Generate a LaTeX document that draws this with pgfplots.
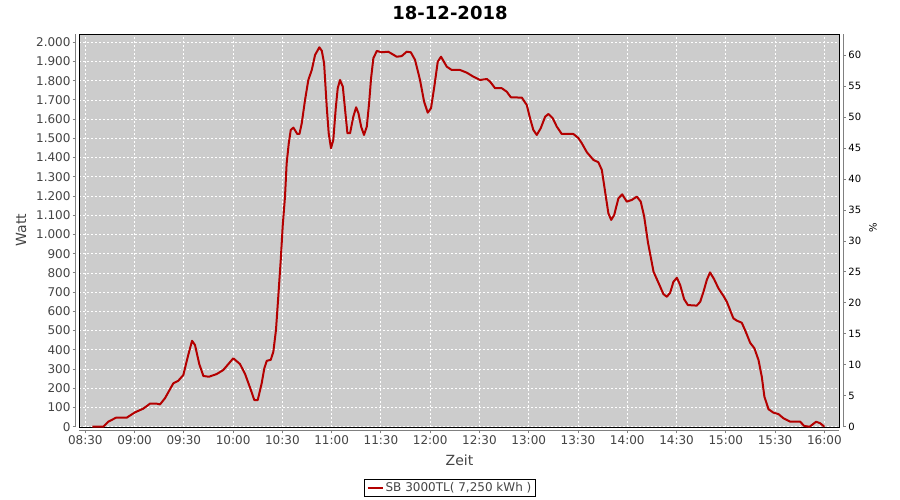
\documentclass[border=0pt]{standalone}
\usepackage{fontspec}
\setmainfont{DejaVu Sans}
\usepackage{pgfplots}
\pgfplotsset{compat=1.18}
\definecolor{bgGray}{RGB}{204,204,204}
\definecolor{axGray}{RGB}{128,128,128}
\definecolor{lblGray}{RGB}{68,68,68}
\definecolor{lineRed}{RGB}{180,0,0}
\pgfplotstableread{
t W
4.3 0
11 0
14 26
18.7 47
25.2 47
30.3 75
35.3 94
39.4 120
43.5 120
45.5 116
48.5 148
53.6 226
56.6 239
59.7 269
62.4 364
65 447
66.8 425
69.4 326
71.9 264
75.3 260
80 274
84 295
90.1 356
94.2 326
97.3 274
100.7 194
102.9 139
105 139
107.4 226
109 304
110.5 343
112.9 348
114.5 390
116.1 503
117.5 676
119 867
120.2 1045
121.6 1197
122.6 1370
123.9 1475
125.1 1544
126.7 1556
129.1 1523
130.4 1523
131.8 1579
133.8 1700
135.8 1804
137.9 1856
139.9 1934
142.5 1974
144 1956
145.4 1891
147 1665
148.2 1527
149.6 1449
151 1492
152.5 1657
153.7 1761
155.1 1804
156.8 1769
158.2 1648
159.6 1527
161.2 1527
163.2 1613
164.9 1662
166.3 1631
168 1560
169.7 1518
171.4 1561
172.8 1683
174 1813
175.4 1917
177.5 1955
180.5 1948
184.5 1951
189.6 1925
192.6 1928
195.7 1951
198.2 1948
200.8 1908
203.8 1804
206.3 1691
208.5 1634
210.5 1657
212.5 1769
214.6 1899
216.6 1925
220.1 1873
223.1 1856
228.2 1856
232.3 1842
236.3 1821
240.4 1804
244.5 1809
246.5 1795
249.5 1761
253.6 1761
256.6 1743
259.1 1714
265.8 1712
268.8 1674
270.8 1605
272.8 1544
274.9 1518
277.3 1553
280 1613
282 1627
284.6 1605
287.1 1561
290.1 1523
297.2 1523
300.3 1501
302.3 1475
305.4 1428
309.4 1388
312.4 1376
314.5 1336
316.5 1223
318.5 1110
320.2 1076
322 1101
324.6 1188
326.9 1209
329.7 1171
332.8 1180
335.8 1197
338.2 1171
340.3 1093
342.6 958
346 806
349.6 737
352 690
354.1 676
356.1 697
358.1 754
360.2 775
362.2 737
364.6 664
366.9 633
372.3 630
374.4 650
376.4 702
378.4 763
380.4 803
382.9 767
385.5 720
388.6 680
390.6 650
392.6 607
394.6 564
396.7 552
399.7 541
401.7 503
404.8 437
407.4 408
409.9 347
411.9 260
413.5 156
416 91
419 73
422 66
425.1 44
429.2 26
435.3 26
437.7 4
441 0
445 26
447.5 18
450 0
}\powerdata
\begin{document}
\begin{tikzpicture}
\path[use as bounding box] (0,0) rectangle (900bp,500bp);
% main plot area
\begin{axis}[
  at={(79.3bp,72.7bp)}, anchor=south west,
  scale only axis, width=760bp, height=393bp,
  xmin=-3.65, xmax=459.1, ymin=-3, ymax=2041.6,
  xtick={0,30,...,450}, ytick={0,100,...,2000},
  xmajorticks=false, ymajorticks=false,
  xmajorgrids=true, ymajorgrids=true,
  major grid style={white, line width=0.9bp, dash pattern=on 2bp off 2bp},
  axis background/.style={fill=bgGray},
  axis line style={black, line width=1bp},
  clip=false,
  legend style={at={(0.4878,-0.1545)}, anchor=center, draw=black, line width=0.8bp,
    font=\fontsize{12bp}{14bp}\selectfont, text=lblGray, inner xsep=2bp, inner ysep=1.5bp},
  legend image code/.code={\draw[#1] (0bp,0bp) -- (15bp,0bp);},
]
\addplot[lineRed, line width=2bp, line join=round] table[x=t, y=W] {\powerdata};
\addlegendentry{SB 3000TL( 7,250 kWh )}
\end{axis}
% left axis
\begin{axis}[
  at={(75.7bp,72.7bp)}, anchor=south west,
  scale only axis, width=760bp, height=393bp,
  xmin=-3.65, xmax=459.1, ymin=-3, ymax=2041.6,
  axis x line=none, axis y line=left,
  y axis line style={-, draw=axGray, line width=1bp},
  xtick=\empty,
  ytick={0,100,...,2000}, ytick align=outside, major tick length=3bp,
  tick style={axGray, line width=1bp},
  yticklabel style={font=\fontsize{12bp}{14bp}\selectfont, text=lblGray, inner xsep=2bp},
  scaled y ticks=false,
  /pgf/number format/.cd, 1000 sep={.}, assume math mode=true,
]
\end{axis}
% bottom axis
\begin{axis}[
  at={(79.3bp,69bp)}, anchor=south west,
  scale only axis, width=760bp, height=393bp,
  xmin=-3.65, xmax=459.1, ymin=-3, ymax=2041.6,
  axis y line=none, axis x line=bottom,
  x axis line style={-, draw=axGray, line width=1bp},
  ytick=\empty,
  xtick={0,30,...,450},
  xticklabels={08:30,09:00,09:30,10:00,10:30,11:00,11:30,12:00,12:30,13:00,13:30,14:00,14:30,15:00,15:30,16:00},
  xtick align=outside, major tick length=2.5bp,
  tick style={axGray, line width=1bp},
  xticklabel style={font=\fontsize{12bp}{14bp}\selectfont, text=lblGray, inner ysep=2bp},
]
\end{axis}
% right axis
\begin{axis}[
  at={(83.7bp,72.7bp)}, anchor=south west,
  scale only axis, width=760bp, height=393bp,
  xmin=-3.65, xmax=459.1, ymin=-0.093, ymax=63.4,
  axis x line=none, axis y line=right,
  y axis line style={-, draw=axGray, line width=1bp},
  xtick=\empty,
  ytick={0,5,...,60}, ytick align=outside, major tick length=2bp,
  tick style={axGray, line width=1bp},
  yticklabel style={font=\fontsize{10bp}{12bp}\selectfont, text=black, inner xsep=2.5bp},
  /pgf/number format/assume math mode=true,
]
\end{axis}
\node[font=\fontsize{18bp}{21bp}\selectfont\bfseries, text=black] at (450bp,487bp) {18-12-2018};
\node[font=\fontsize{14bp}{16bp}\selectfont, text=lblGray, rotate=90] at (21bp,270bp) {Watt};
\node[font=\fontsize{14bp}{16bp}\selectfont, text=lblGray] at (459.5bp,40bp) {Zeit};
\node[font=\fontsize{10bp}{12bp}\selectfont, text=black, rotate=90] at (873bp,272bp) {\%};
\end{tikzpicture}
\end{document}
